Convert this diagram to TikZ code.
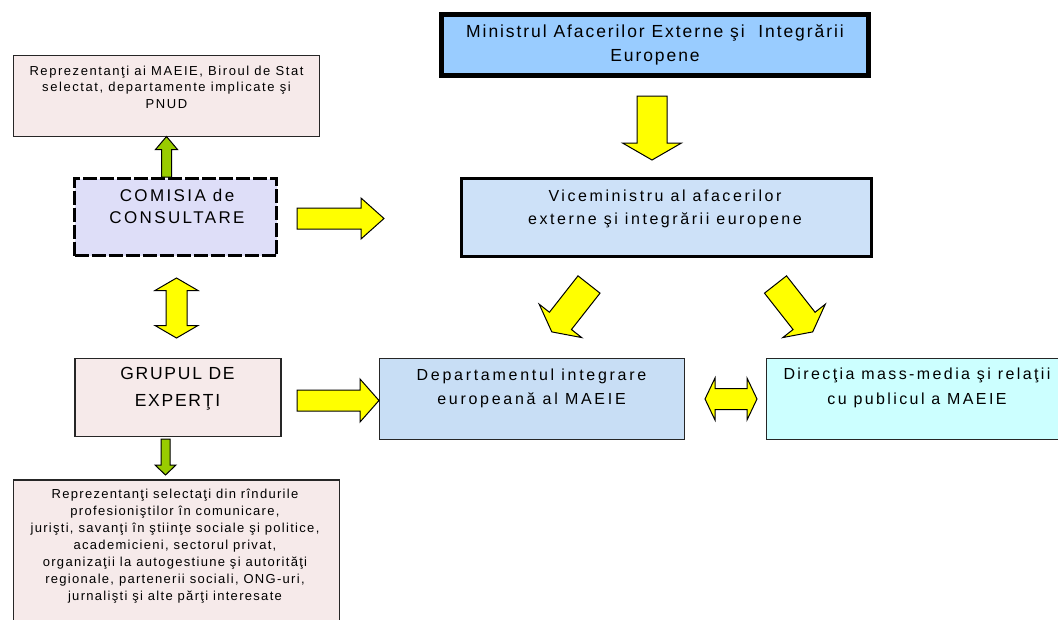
\documentclass[tikz,border=0pt]{standalone}
\usepackage{fontspec}
\setmainfont{Liberation Sans}
\usetikzlibrary{calc}
\definecolor{minisblue}{RGB}{153,204,255}
\definecolor{viceblue}{RGB}{205,225,248}
\definecolor{deptblue}{RGB}{200,222,245}
\definecolor{dircyan}{RGB}{204,255,255}
\definecolor{lav}{RGB}{222,222,248}
\definecolor{pinkbg}{RGB}{246,234,234}
\definecolor{ayellow}{RGB}{255,255,0}
\definecolor{agreen}{RGB}{153,204,0}
\newcommand\fMin{\fontsize{17.5}{24}\selectfont\addfontfeature{LetterSpace=11}}
\newcommand\fVice{\fontsize{16}{23}\selectfont\addfontfeature{LetterSpace=16}}
\newcommand\fCom{\fontsize{17}{22}\selectfont\addfontfeature{LetterSpace=14}}
\newcommand\fGrp{\fontsize{17.5}{27}\selectfont\addfontfeature{LetterSpace=10}}
\newcommand\fDept{\fontsize{16}{24}\selectfont\addfontfeature{LetterSpace=17}}
\newcommand\fDir{\fontsize{16}{25}\selectfont\addfontfeature{LetterSpace=15}}
\newcommand\fSmall{\fontsize{13}{16.5}\selectfont\addfontfeature{LetterSpace=12}}
\newcommand\fSmallB{\fontsize{13}{17}\selectfont\addfontfeature{LetterSpace=10}}
% block arrow: style, tail, tip, shaft half width, head half width, head length
\newcommand\blockarr[6]{%
  \coordinate (baH) at ($(#3)!#6!(#2)$);
  \draw[#1] ($(#2)!#4!90:(#3)$) -- ($(baH)!#4!90:(#3)$) -- ($(baH)!#5!90:(#3)$) -- (#3)
    -- ($(baH)!#5!-90:(#3)$) -- ($(baH)!#4!-90:(#3)$) -- ($(#2)!#4!-90:(#3)$) -- cycle;}
\newcommand\dblockarr[6]{%
  \coordinate (baH) at ($(#3)!#6!(#2)$);
  \coordinate (baT) at ($(#2)!#6!(#3)$);
  \draw[#1] (#2) -- ($(baT)!#5!90:(#3)$) -- ($(baT)!#4!90:(#3)$) -- ($(baH)!#4!90:(#3)$)
    -- ($(baH)!#5!90:(#3)$) -- (#3) -- ($(baH)!#5!-90:(#3)$) -- ($(baH)!#4!-90:(#3)$)
    -- ($(baT)!#4!-90:(#3)$) -- ($(baT)!#5!-90:(#3)$) -- cycle;}
\tikzset{
  box/.style={draw, outer sep=0pt, inner sep=0pt, anchor=center},
  txt/.style={align=center, inner sep=0pt, anchor=center},
  yarr/.style={fill=ayellow, draw=black, line width=1pt, line join=miter},
  garr/.style={fill=agreen, draw=black, line width=1pt, line join=miter}
}
\begin{document}
\begin{tikzpicture}[x=1pt,y=-1pt]
\useasboundingbox (0,0) rectangle (1058,619);
\fill[white] (0,0) rectangle (1058,619);

% boxes
\node[box, line width=5pt, fill=minisblue, minimum width=427pt, minimum height=61pt, align=center, font=\fMin] (minis) at (655,45) {Ministrul Afacerilor Externe şi \ Integrării\\Europene};
\node[box, line width=3pt, fill=viceblue, minimum width=410pt, minimum height=78pt] (vice) at (666.5,217.5) {};
\node[box, line width=3pt, dash pattern=on 14pt off 3pt, fill=lav, minimum width=202pt, minimum height=77pt] (comisia) at (175.5,217) {};
\node[box, line width=1.5pt, draw=black!85, fill=pinkbg, minimum width=306pt, minimum height=81pt] (topl) at (166.5,96) {};
\node[box, line width=1.5pt, draw=black!85, fill=pinkbg, minimum width=206pt, minimum height=78pt] (grupul) at (178,397.5) {};
\node[box, line width=1.5pt, draw=black!85, fill=pinkbg, minimum width=326pt, minimum height=160pt] (bottom) at (176.5,560) {};
\node[box, line width=1.5pt, draw=black!85, fill=deptblue, minimum width=305pt, minimum height=81pt] (dept) at (532,399) {};
\node[box, line width=1.5pt, draw=black!85, fill=dircyan, minimum width=308pt, minimum height=81pt] (dir) at (920.5,399) {};

% texts
\node[txt, font=\fVice] (viceT) at (665,208.5) {Viceministru al afacerilor\\externe şi integrării europene};
\node[txt, font=\fCom] (comT) at (177,206) {COMISIA de\\CONSULTARE};
\node[txt, font=\fGrp] (grpT) at (177.5,388.5) {GRUPUL DE\\EXPERŢI};
\node[txt, font=\fDept] (deptT) at (531.5,388) {Departamentul integrare\\europeană al MAEIE};
\node[txt, font=\fDir] (dirT) at (917,387.5) {Direcţia mass-media şi relaţii\\cu publicul a MAEIE};
\node[txt, font=\fSmall] (toplT) at (166.5,87) {Reprezentanţi ai MAEIE, Biroul de Stat\\selectat, departamente implicate şi\\PNUD};
\node[txt, font=\fSmallB] (botT) at (175,546) {Reprezentanţi selectaţi din rîndurile\\profesioniştilor în comunicare,\\jurişti, savanţi în ştiinţe sociale şi politice,\\academicieni, sectorul privat,\\organizaţii la autogestiune şi autorităţi\\regionale, partenerii sociali, ONG-uri,\\jurnalişti şi alte părţi interesate};

% arrow end points
\coordinate (mvA) at ($(minis.south)+(-3,20.5)$);
\coordinate (mvB) at ($(vice.north)+(-14.5,-18.5)$);
\coordinate (cvA) at ($(comisia.east)+(20.5,1.5)$);
\coordinate (cvB) at ($(vice.west)+(-77.5,1)$);
\coordinate (ctA) at ($(comisia.north -| topl.south)+(0,-1.5)$);
\coordinate (ctB) at (topl.south);
\coordinate (cgA) at ($(comisia.south)+(1,22.5)$);
\coordinate (cgB) at ($(grupul.north)+(-1.5,-20.5)$);
\coordinate (gdA) at ($(grupul.east)+(16,3)$);
\coordinate (gdB) at ($(dept.west)+(-0.5,1.5)$);
\coordinate (gbA) at ($(grupul.south)+(-12.5,2.5)$);
\coordinate (gbB) at ($(bottom.north)+(-11,-5)$);
\coordinate (ddA) at ($(dept.east)+(20.5,0)$);
\coordinate (ddB) at ($(dir.west)+(-9.5,0)$);
\coordinate (vdA) at ($(vice.south)+(-77.5,28)$);
\coordinate (vdB) at ($(dept.north)+(19.8,-26.6)$);
\coordinate (vrA) at ($(vice.south)+(109,28)$);
\coordinate (vrB) at ($(dir.north)+(-107.8,-26.6)$);

% arrows
\blockarr{yarr}{mvA}{mvB}{15pt}{29.5pt}{17pt}
\blockarr{yarr}{cvA}{cvB}{10.5pt}{20.5pt}{23pt}
\blockarr{garr}{ctA}{ctB}{5pt}{11pt}{13pt}
\dblockarr{yarr}{cgA}{cgB}{10.5pt}{21.5pt}{12.5pt}
\blockarr{yarr}{gdA}{gdB}{10.5pt}{21.5pt}{19pt}
\blockarr{garr}{gbA}{gbB}{4.5pt}{10.5pt}{10pt}
\dblockarr{yarr}{ddA}{ddB}{10.5pt}{21pt}{10pt}
\blockarr{yarr}{vdA}{vdB}{14pt}{27pt}{14pt}
\blockarr{yarr}{vrA}{vrB}{14pt}{27pt}{14pt}
\end{tikzpicture}
\end{document}
